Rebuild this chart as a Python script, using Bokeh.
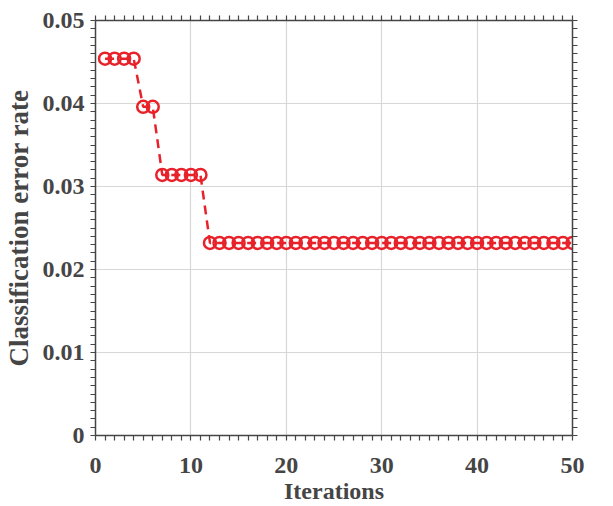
from bokeh.plotting import figure
from bokeh.models import LinearAxis, CustomJSTickFormatter, FixedTicker, SingleIntervalTicker, Range1d
from bokeh.embed import file_html
from bokeh.resources import INLINE

iterations = list(range(1, 51))
error_rate = [0.0454] * 4 + [0.0396] * 2 + [0.0314] * 5 + [0.0232] * 39
x_tick_positions = list(range(0, 51))
y_tick_positions = [i / 1000 for i in range(0, 51)]

FONT = "Liberation Serif"
AX = "#454545"
RED = "#e8222a"

p = figure(width=613, height=506, output_backend="svg", toolbar_location=None,
           x_range=Range1d(0, 50), y_range=Range1d(0, 0.05),
           min_border_left=5, min_border_right=41, min_border_top=20, min_border_bottom=5)
p.outline_line_color = None

p.line(iterations, error_rate, line_color=RED, line_width=2.5, line_dash="9 6")
p.scatter(iterations, error_rate, marker="circle", size=12, line_color=RED,
          fill_color=None, line_width=2.5)

def style(ax, labels=True):
    ax.axis_line_color = AX
    ax.axis_line_width = 1.5
    ax.major_tick_line_color = AX
    ax.major_tick_in = 0
    ax.major_tick_out = 5
    ax.major_tick_line_width = 1.2
    ax.minor_tick_line_color = None
    ax.major_label_text_font = FONT
    ax.major_label_text_font_style = "bold"
    ax.major_label_text_font_size = "24px"
    ax.major_label_text_color = AX
    ax.axis_label_text_font = FONT
    ax.axis_label_text_font_style = "bold"
    ax.axis_label_text_font_size = "24px"
    ax.axis_label_text_color = AX
    if not labels:
        ax.major_label_text_font_size = "0px"
        ax.major_label_text_color = None

xfmt = CustomJSTickFormatter(code="const v = Math.round(tick); return v % 10 == 0 ? v.toString() : '';")
yfmt = CustomJSTickFormatter(code="const v = Math.round(tick*1000); if (v % 10 != 0) return ''; return v == 0 ? '0' : (v/1000).toFixed(2);")

p.xaxis.ticker = FixedTicker(ticks=x_tick_positions)
p.yaxis.ticker = FixedTicker(ticks=y_tick_positions)
p.xaxis.formatter = xfmt
p.yaxis.formatter = yfmt
p.xaxis.axis_label = "Iterations"
p.yaxis.axis_label = "Classification error rate"
style(p.xaxis[0])
style(p.yaxis[0])
p.xaxis.major_label_standoff = 17
p.yaxis.major_label_standoff = 6
p.xaxis.axis_label_standoff = 2
p.yaxis.axis_label_standoff = 6
p.yaxis.axis_label_text_font_size = "27px"

top = LinearAxis(ticker=FixedTicker(ticks=x_tick_positions))
right = LinearAxis(ticker=FixedTicker(ticks=y_tick_positions))
style(top, labels=False)
style(right, labels=False)
p.add_layout(top, "above")
p.add_layout(right, "right")

p.xgrid.ticker = SingleIntervalTicker(interval=10, num_minor_ticks=0)
p.ygrid.ticker = SingleIntervalTicker(interval=0.01, num_minor_ticks=0)
p.grid.grid_line_color = "#d8d8d8"
p.grid.grid_line_width = 1.2

open("out.html", "w").write(file_html(p, INLINE))
